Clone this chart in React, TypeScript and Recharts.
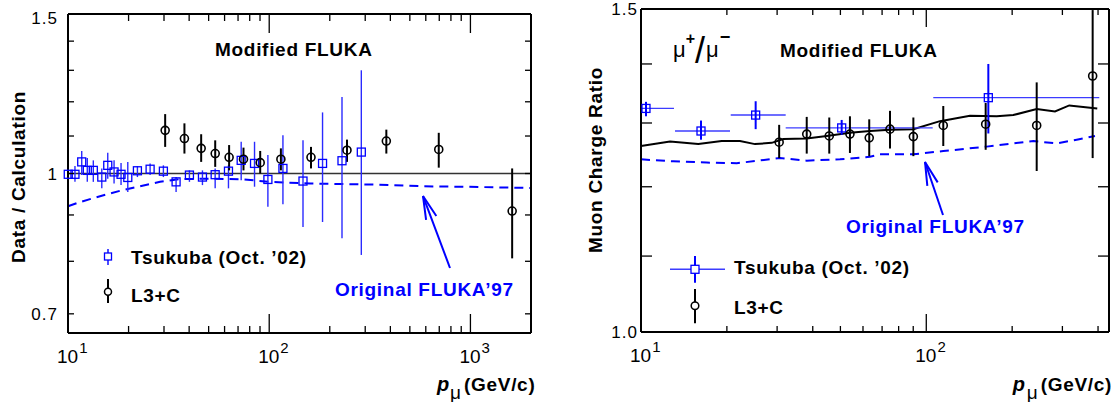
import React from "react";
import {
  ComposedChart,
  Scatter,
  Line,
  XAxis,
  YAxis,
  ErrorBar,
  ReferenceLine,
  Legend,
} from "recharts";

const FONT = '"Liberation Sans", Arial, Helvetica, sans-serif';
const BLUE = "#0000ff";

// ---------- left panel: Data / Calculation ----------
const ratioTsukubaP = [10.03, 10.83, 11.7, 12.47, 13.36, 14.72, 15.76, 16.94, 18.35, 19.82, 22.13, 25.59, 29.79, 34.45, 40.13, 46.58, 53.87, 62.73, 72.56, 84.53, 98.5, 117.0, 147.2, 184.1, 230.0, 286.9];
const ratioTsukuba = [0.998, 0.998, 1.03, 1.008, 1.008, 0.991, 1.021, 1.004, 0.998, 0.99, 1.007, 1.011, 1.006, 0.979, 0.996, 0.991, 0.997, 1.006, 1.034, 1.026, 0.985, 1.013, 0.981, 1.026, 1.033, 1.056];
const ratioTsukubaLo = [0.971, 0.979, 0.996, 0.979, 0.979, 0.963, 0.987, 0.975, 0.971, 0.954, 0.991, 0.996, 0.991, 0.954, 0.979, 0.971, 0.963, 0.963, 0.983, 0.967, 0.919, 0.925, 0.873, 0.884, 0.848, 0.813];
const ratioTsukubaHi = [1.026, 1.019, 1.059, 1.04, 1.034, 1.013, 1.054, 1.034, 1.027, 1.03, 1.019, 1.026, 1.021, 0.991, 1.008, 1.008, 1.013, 1.021, 1.084, 1.084, 1.048, 1.102, 1.088, 1.168, 1.215, 1.3];

const ratioL3P = [30.4, 37.9, 45.9, 53.9, 63.2, 74.5, 90.2, 114.3, 161.3, 243.5, 382, 696, 1612];
const ratioL3 = [1.116, 1.093, 1.066, 1.052, 1.042, 1.037, 1.028, 1.037, 1.042, 1.061, 1.086, 1.063, 0.909];
const ratioL3Lo = [1.07, 1.052, 1.03, 1.017, 1.008, 1.008, 1.0, 1.008, 1.013, 1.03, 1.052, 1.015, 0.806];
const ratioL3Hi = [1.163, 1.136, 1.105, 1.088, 1.075, 1.068, 1.059, 1.066, 1.07, 1.09, 1.118, 1.109, 1.013];

const ratioFluka97P = [10, 11.47, 14.43, 18.15, 22.81, 28.69, 36.07, 53.87, 74.4, 101.2, 160, 343.4, 585.8, 891.9, 2000];
const ratioFluka97 = [0.92, 0.93, 0.944, 0.957, 0.968, 0.979, 0.986, 0.987, 0.985, 0.979, 0.975, 0.972, 0.968, 0.967, 0.964];

const leftXTicks = [10, 20, 30, 40, 50, 60, 70, 80, 90, 100, 200, 300, 400, 500, 600, 700, 800, 900, 1000];
const leftXMajor = [10, 100, 1000];
const leftXExp = ["1", "2", "3"];
const leftYTicks = [0.7, 0.8, 0.9, 1, 1.1, 1.2, 1.3, 1.4, 1.5];
const leftYLabelAt = [0.7, 1, 1.5];
const leftYLabelText = ["0.7", "1", "1.5"];

// ---------- right panel: Muon Charge Ratio ----------
const chargeTsukubaP = [10.41, 16.23, 25.23, 50.52, 165.0];
const chargeTsukubaPLo = [10, 13.16, 20.63, 32.15, 105.8];
const chargeTsukubaPHi = [13.05, 20.51, 32.15, 105.3, 404.0];
const chargeTsukuba = [1.324, 1.287, 1.313, 1.292, 1.342];
const chargeTsukubaLo = [1.311, 1.273, 1.29, 1.281, 1.283];
const chargeTsukubaHi = [1.335, 1.304, 1.336, 1.305, 1.4];

const chargeL3P = [30.5, 38.1, 45.7, 54.0, 63.1, 74.6, 90.1, 114.7, 161.5, 243.8, 383];
const chargeL3 = [1.269, 1.282, 1.279, 1.282, 1.276, 1.29, 1.278, 1.296, 1.298, 1.296, 1.379];
const chargeL3Lo = [1.244, 1.251, 1.251, 1.252, 1.247, 1.259, 1.247, 1.263, 1.257, 1.224, 1.244];
const chargeL3Hi = [1.297, 1.31, 1.309, 1.311, 1.306, 1.32, 1.309, 1.328, 1.333, 1.368, 1.498];

const chargeModP = [10, 12.64, 15.88, 19.18, 22.23, 25.09, 28.72, 31.53, 38.09, 44.77, 54.02, 63.48, 74.61, 90.05, 111.7, 142.3, 176.5, 201.8, 243.8, 282.6, 317.1, 397.5];
const chargeMod = [1.263, 1.27, 1.266, 1.271, 1.271, 1.266, 1.268, 1.274, 1.275, 1.279, 1.284, 1.287, 1.289, 1.29, 1.303, 1.312, 1.311, 1.313, 1.323, 1.319, 1.329, 1.324];

const chargeFluka97P = [10, 12.98, 16.99, 21.65, 30.7, 38.09, 49.84, 63.48, 68.82, 90.05, 114.7, 162.8, 237.2, 286.5, 336.6, 390.2];
const chargeFluka97 = [1.242, 1.239, 1.237, 1.236, 1.244, 1.24, 1.242, 1.246, 1.25, 1.25, 1.255, 1.262, 1.271, 1.267, 1.273, 1.279];

const rightXTicks = [10, 20, 30, 40, 50, 60, 70, 80, 90, 100, 200, 300, 400];
const rightXMajor = [10, 100];
const rightXExp = ["1", "2"];
const rightYTicks = [1.0, 1.1, 1.2, 1.3, 1.4, 1.5];
const rightYLabelAt = [1.0, 1.5];
const rightYLabelText = ["1.0", "1.5"];

// ---------- tables ----------
const line = (xs: number[], ys: number[]) => xs.map((x, i) => ({ x, y: ys[i] }));
const points = (xs: number[], ys: number[], lo: number[], hi: number[]) =>
  xs.map((x, i) => ({ x, y: ys[i], ey: [ys[i] - lo[i], hi[i] - ys[i]] }));

const leftTsukuba = points(ratioTsukubaP, ratioTsukuba, ratioTsukubaLo, ratioTsukubaHi);
const leftL3 = points(ratioL3P, ratioL3, ratioL3Lo, ratioL3Hi);
const leftFluka97 = line(ratioFluka97P, ratioFluka97);

const rightTsukuba = points(chargeTsukubaP, chargeTsukuba, chargeTsukubaLo, chargeTsukubaHi).map((d, i) => ({
  ...d,
  ex: [d.x - chargeTsukubaPLo[i], chargeTsukubaPHi[i] - d.x],
}));
const rightL3 = points(chargeL3P, chargeL3, chargeL3Lo, chargeL3Hi);
const rightMod = line(chargeModP, chargeMod);
const rightFluka97 = line(chargeFluka97P, chargeFluka97);

// ---------- axis decorations ----------
const idx = (list: number[], v: number) => list.findIndex((t) => Math.abs(t - v) < 1e-6);

const bottomTick = (majors: number[], exps: string[], majorLen: number, minorLen: number) => (p: any) => {
  const i = idx(majors, p.payload.value);
  return (
    <g>
      <line x1={p.x} x2={p.x} y1={p.y} y2={p.y - (i >= 0 ? majorLen : minorLen)} stroke="#000" strokeWidth={1.3} />
      {i >= 0 && (
        <text x={p.x - 11} y={p.y + 30} fontFamily={FONT} fontSize={19} fill="#000">
          10
          <tspan dx={1} dy={-10} fontSize={15}>
            {exps[i]}
          </tspan>
        </text>
      )}
    </g>
  );
};

const topTick = (majors: number[], majorLen: number, minorLen: number) => (p: any) => {
  const i = idx(majors, p.payload.value);
  return <line x1={p.x} x2={p.x} y1={p.y} y2={p.y + (i >= 0 ? majorLen : minorLen)} stroke="#000" strokeWidth={1.3} />;
};

const leftTick = (at: number[], texts: string[], len: number, gap: number, topNudge: number) => (p: any) => {
  const i = idx(at, p.payload.value);
  const nudge = i === at.length - 1 ? topNudge : 0;
  return (
    <g>
      <line x1={p.x} x2={p.x + len} y1={p.y} y2={p.y} stroke="#000" strokeWidth={1.3} />
      {i >= 0 && (
        <text x={p.x - gap} y={p.y + 6 + nudge} textAnchor="end" fontFamily={FONT} fontSize={17} letterSpacing={1} fill="#000">
          {texts[i]}
        </text>
      )}
    </g>
  );
};

const rightTick = (len: number) => (p: any) => (
  <line x1={p.x} x2={p.x - len} y1={p.y} y2={p.y} stroke="#000" strokeWidth={1.3} />
);

const squareShape = (p: any) => (
  <rect x={p.cx - 4} y={p.cy - 4} width={8} height={8} fill="none" stroke={BLUE} strokeWidth={1.3} />
);
const circleShape = (p: any) => <circle cx={p.cx} cy={p.cy} r={4} fill="none" stroke="#000" strokeWidth={1.6} />;
const noShape = () => <g />;

const bold = { fontFamily: FONT, fontWeight: 700, fontSize: 19, letterSpacing: 0.7 } as const;

const LeftLegend = () => (
  <svg width={240} height={75}>
    <line x1={13} x2={13} y1={9} y2={25} stroke={BLUE} strokeWidth={1.4} />
    <rect x={9.5} y={13} width={7} height={7} fill="#fff" stroke={BLUE} strokeWidth={1.3} />
    <text x={36} y={23.5} {...bold} fill="#000">
      Tsukuba (Oct. ’02)
    </text>
    <line x1={13} x2={13} y1={39} y2={63} stroke="#000" strokeWidth={2} />
    <circle cx={13} cy={51.7} r={3.5} fill="#fff" stroke="#000" strokeWidth={1.5} />
    <text x={36} y={61.5} {...bold} fill="#000">
      L3+C
    </text>
  </svg>
);

const RightLegend = () => (
  <svg width={260} height={80}>
    <line x1={10} x2={65} y1={19.3} y2={19.3} stroke="#3c3cff" strokeWidth={1.4} />
    <line x1={35} x2={35} y1={6} y2={32.7} stroke={BLUE} strokeWidth={2} />
    <rect x={31} y={15.3} width={8} height={8} fill="#fff" stroke={BLUE} strokeWidth={1.3} />
    <text x={74} y={24} {...bold} fill="#000">
      Tsukuba (Oct. ’02)
    </text>
    <line x1={35} x2={35} y1={39} y2={73.3} stroke="#000" strokeWidth={2} />
    <circle cx={35} cy={55.7} r={3.8} fill="#fff" stroke="#000" strokeWidth={1.5} />
    <text x={74} y={63.5} {...bold} fill="#000">
      L3+C
    </text>
  </svg>
);

const Arrow = ({ x1, y1, x2, y2 }: { x1: number; y1: number; x2: number; y2: number }) => {
  const a = Math.atan2(y1 - y2, x1 - x2);
  const L = 24;
  const w = 0.23;
  const p1 = `${x2 + L * Math.cos(a + w)},${y2 + L * Math.sin(a + w)}`;
  const p2 = `${x2 + L * Math.cos(a - w)},${y2 + L * Math.sin(a - w)}`;
  return (
    <g stroke={BLUE} strokeWidth={2} fill="none">
      <line x1={x1} y1={y1} x2={x2} y2={y2} />
      <polyline points={`${p1} ${x2},${y2} ${p2}`} />
    </g>
  );
};

const axisLine = { stroke: "#000", strokeWidth: 2 };

export default function App() {
  return (
    <div style={{ position: "absolute", left: 0, top: 0, width: 1119, height: 402, background: "#fff" }}>
      <div style={{ position: "absolute", left: 0, top: 0 }}>
        <ComposedChart width={560} height={402} margin={{ top: 13, right: 28, bottom: 0, left: 0 }}>
          <XAxis
            dataKey="x"
            type="number"
            scale="log"
            domain={[10, 2000]}
            ticks={leftXTicks}
            interval={0}
            tickSize={0}
            tickMargin={0}
            height={69}
            axisLine={axisLine}
            tickLine={false}
            tick={bottomTick(leftXMajor, leftXExp, 19, 7)}
          />
          <XAxis
            xAxisId="top"
            dataKey="x"
            orientation="top"
            type="number"
            scale="log"
            domain={[10, 2000]}
            allowDataOverflow
            ticks={leftXTicks}
            interval={0}
            tickSize={0}
            tickMargin={0}
            height={1}
            axisLine={axisLine}
            tickLine={false}
            tick={topTick(leftXMajor, 19, 7)}
          />
          <YAxis
            type="number"
            scale="log"
            domain={[0.6667, 1.5]}
            ticks={leftYTicks}
            interval={0}
            tickSize={0}
            tickMargin={0}
            width={68}
            axisLine={axisLine}
            tickLine={false}
            tick={leftTick(leftYLabelAt, leftYLabelText, 6, 10, 3.5)}
          />
          <YAxis
            yAxisId="right"
            orientation="right"
            type="number"
            scale="log"
            domain={[0.6667, 1.5]}
            allowDataOverflow
            ticks={leftYTicks}
            interval={0}
            tickSize={0}
            tickMargin={0}
            width={1}
            axisLine={axisLine}
            tickLine={false}
            tick={rightTick(6)}
          />
          {/* invisible series that binds the mirrored top / right axes */}
          <Scatter
            xAxisId="top"
            yAxisId="right"
            data={leftL3}
            dataKey="y"
            shape={noShape}
            legendType="none"
            isAnimationActive={false}
          />
          <ReferenceLine y={1} stroke="#333" strokeWidth={1.3} />
          <Line
            data={leftFluka97}
            dataKey="y"
            type="linear"
            stroke={BLUE}
            strokeWidth={2}
            strokeDasharray="9 6"
            dot={false}
            isAnimationActive={false}
          />
          <Scatter data={leftTsukuba} dataKey="y" shape={squareShape} isAnimationActive={false}>
            <ErrorBar dataKey="ey" direction="y" width={0} stroke="#2a2aff" strokeWidth={1.4} />
          </Scatter>
          <Scatter data={leftL3} dataKey="y" shape={circleShape} isAnimationActive={false}>
            <ErrorBar dataKey="ey" direction="y" width={0} stroke="#000" strokeWidth={2} />
          </Scatter>
          <Legend
            layout="horizontal"
            align="center"
            verticalAlign="middle"
            wrapperStyle={{ left: 95, top: 240, width: 240, height: 75 }}
            content={() => <LeftLegend />}
          />
        </ComposedChart>
      </div>

      <div style={{ position: "absolute", left: 560, top: 0 }}>
        <ComposedChart width={559} height={402} margin={{ top: 8, right: 9, bottom: 0, left: 0 }}>
          <XAxis
            dataKey="x"
            type="number"
            scale="log"
            domain={[10, 437]}
            ticks={rightXTicks}
            interval={0}
            tickSize={0}
            tickMargin={0}
            height={70}
            axisLine={axisLine}
            tickLine={false}
            tick={bottomTick(rightXMajor, rightXExp, 18, 6)}
          />
          <XAxis
            xAxisId="top"
            dataKey="x"
            orientation="top"
            type="number"
            scale="log"
            domain={[10, 437]}
            allowDataOverflow
            ticks={rightXTicks}
            interval={0}
            tickSize={0}
            tickMargin={0}
            height={1}
            axisLine={axisLine}
            tickLine={false}
            tick={topTick(rightXMajor, 18, 6)}
          />
          <YAxis
            type="number"
            scale="log"
            domain={[1.0, 1.5]}
            ticks={rightYTicks}
            interval={0}
            tickSize={0}
            tickMargin={0}
            width={81}
            axisLine={axisLine}
            tickLine={false}
            tick={leftTick(rightYLabelAt, rightYLabelText, 11, 3, 0)}
          />
          <YAxis
            yAxisId="right"
            orientation="right"
            type="number"
            scale="log"
            domain={[1.0, 1.5]}
            allowDataOverflow
            ticks={rightYTicks}
            interval={0}
            tickSize={0}
            tickMargin={0}
            width={1}
            axisLine={axisLine}
            tickLine={false}
            tick={rightTick(11)}
          />
          <Scatter
            xAxisId="top"
            yAxisId="right"
            data={rightL3}
            dataKey="y"
            shape={noShape}
            legendType="none"
            isAnimationActive={false}
          />
          <Line
            data={rightFluka97}
            dataKey="y"
            type="linear"
            stroke={BLUE}
            strokeWidth={2}
            strokeDasharray="9 6"
            dot={false}
            isAnimationActive={false}
          />
          <Line
            data={rightMod}
            dataKey="y"
            type="linear"
            stroke="#000"
            strokeWidth={2}
            dot={false}
            isAnimationActive={false}
          />
          <Scatter data={rightTsukuba} dataKey="y" shape={squareShape} isAnimationActive={false}>
            <ErrorBar dataKey="ex" direction="x" width={0} stroke="#3c3cff" strokeWidth={1.4} />
            <ErrorBar dataKey="ey" direction="y" width={0} stroke={BLUE} strokeWidth={2} />
          </Scatter>
          <Scatter data={rightL3} dataKey="y" shape={circleShape} isAnimationActive={false}>
            <ErrorBar dataKey="ey" direction="y" width={0} stroke="#000" strokeWidth={2} />
          </Scatter>
          <Legend
            layout="horizontal"
            align="center"
            verticalAlign="middle"
            wrapperStyle={{ left: 100, top: 250, width: 260, height: 80 }}
            content={() => <RightLegend />}
          />
        </ComposedChart>
      </div>

      <svg
        width={1119}
        height={402}
        style={{ position: "absolute", left: 0, top: 0, pointerEvents: "none" }}
      >
        {/* left panel annotations */}
        <text x={215} y={55.5} {...bold} fill="#000">
          Modified FLUKA
        </text>
        <text x={335} y={295.5} {...bold} fill={BLUE}>
          Original FLUKA’97
        </text>
        <Arrow x1={450} y1={268} x2={423} y2={196} />
        <text x={25} y={177} textAnchor="middle" transform="rotate(-90 25 177)" {...bold} fill="#000">
          Data / Calculation
        </text>
        <text x={437} y={391} fontFamily={FONT} fontSize={20} fontWeight={700} fontStyle="italic" fill="#000">
          p
        </text>
        <text x={450} y={398.5} fontFamily={FONT} fontSize={19} fill="#000">
          μ
        </text>
        <text x={464} y={391} {...bold} fill="#000">
          (GeV/c)
        </text>

        {/* right panel annotations */}
        <text x={673} y={57} fontFamily={FONT} fontSize={22} fill="#000">
          μ
          <tspan dy={-13} fontSize={16} fontWeight={700}>
            +
          </tspan>
          <tspan dy={19} fontSize={36}>
            /
          </tspan>
          <tspan dx={1} dy={-6}>
            μ
          </tspan>
          <tspan dx={1} dy={-14} fontSize={18} fontWeight={700}>
            −
          </tspan>
        </text>
        <text x={780} y={57} {...bold} fill="#000">
          Modified FLUKA
        </text>
        <text x={846} y={233} {...bold} fill={BLUE}>
          Original FLUKA’97
        </text>
        <Arrow x1={943} y1={215} x2={925} y2={162} />
        <text x={602} y={160} textAnchor="middle" transform="rotate(-90 602 160)" {...bold} fill="#000">
          Muon Charge Ratio
        </text>
        <text x={1012.7} y={391} fontFamily={FONT} fontSize={20} fontWeight={700} fontStyle="italic" fill="#000">
          p
        </text>
        <text x={1026.7} y={398.5} fontFamily={FONT} fontSize={19} fill="#000">
          μ
        </text>
        <text x={1040.7} y={391} {...bold} fill="#000">
          (GeV/c)
        </text>
      </svg>
    </div>
  );
}
